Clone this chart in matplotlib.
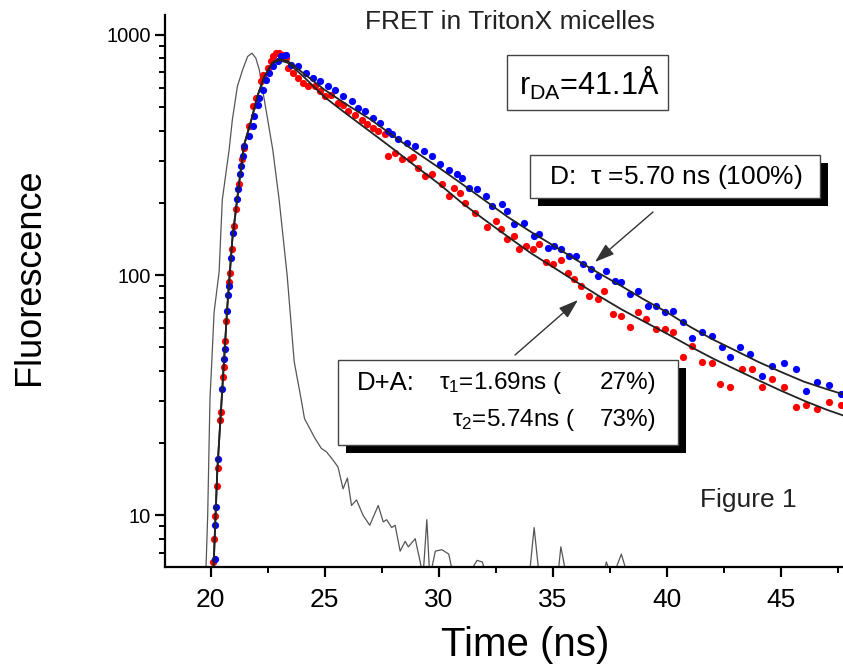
import matplotlib
matplotlib.use('Agg')
import matplotlib.pyplot as plt
from matplotlib.patches import Rectangle
from matplotlib.ticker import LogLocator, MultipleLocator, NullFormatter

plt.rcParams['font.family'] = ['Liberation Sans', 'DejaVu Sans']
plt.rcParams['mathtext.fontset'] = 'custom'
plt.rcParams['mathtext.rm'] = 'Liberation Sans'
plt.rcParams['mathtext.it'] = 'Liberation Sans'
plt.rcParams['mathtext.default'] = 'regular'

# ---- instrument response (grey trace) ----
irf_t = [19.70, 19.80, 19.87, 19.97, 20.05, 20.15, 20.37, 20.51, 20.81, 20.95, 21.17,
         21.40, 21.62, 21.81, 21.98, 22.13, 22.25, 22.50, 22.72, 23.00, 23.35, 23.66,
         23.96, 24.11, 24.55, 24.85, 25.07, 25.36, 25.58, 25.80, 25.99, 26.17, 26.39,
         26.68, 26.97, 27.34, 27.56, 27.71, 27.93, 28.08, 28.30, 28.52, 28.66, 28.96,
         29.18, 29.30, 29.47, 29.60, 29.84, 30.13, 30.43, 30.65, 31.40, 31.67, 31.90,
         32.10, 33.95, 34.17, 34.40, 35.20, 35.34, 35.60, 37.20, 37.33, 37.60, 37.99,
         38.30, 47.70]
irf_y = [4.5, 6.2, 10.0, 30.6, 43.6, 70.0, 103.0, 206.0, 333.0, 443.0, 610.0,
         716.0, 813.0, 839.0, 800.0, 716.0, 610.0, 443.0, 333.0, 206.0, 100.0, 43.6,
         30.6, 25.3, 21.1, 19.0, 18.4, 17.0, 15.9, 12.9, 14.3, 11.0, 11.6,
         10.0, 9.1, 11.0, 9.4, 9.6, 8.9, 9.1, 7.1, 7.8, 7.4, 8.0,
         6.4, 5.5, 9.6, 5.5, 7.1, 7.2, 6.9, 5.5, 5.9, 6.5, 6.4,
         5.5, 5.5, 8.9, 5.5, 5.5, 7.4, 5.5, 5.5, 6.4, 5.5, 6.9,
         5.5, 5.5]

# ---- donor only (blue) ----
d_t = [20.20, 20.21, 20.24, 20.32, 20.51, 20.59, 20.62, 20.72, 20.77, 20.80, 20.89,
       20.98, 21.16, 21.21, 21.30, 21.34, 21.40, 21.46, 21.69, 21.84, 21.91, 22.06,
       22.13, 22.28, 22.42, 22.57, 22.72, 22.94, 23.08, 23.30, 23.52, 23.82, 24.19,
       24.48, 24.77, 25.14, 25.43, 25.80, 26.17, 26.46, 26.75, 27.12, 27.41, 27.78,
       27.93, 28.22, 28.59, 28.96, 29.33, 29.69, 30.06, 30.43, 30.79, 31.01, 31.31,
       31.67, 32.04, 32.33, 32.78, 33.00, 33.29, 33.73, 34.17, 34.39, 34.76, 35.05,
       35.34, 35.71, 36.00, 36.30, 36.67, 36.96, 37.33, 37.70, 37.99, 38.36, 38.72,
       39.16, 39.53, 39.90, 40.26, 40.70, 41.07, 41.51, 41.95, 42.39, 42.76, 43.20,
       43.64, 44.15, 44.60, 45.10, 45.63, 46.07, 46.58, 47.09, 47.60]
d_y = [6.6, 9.1, 10.8, 17.2, 33.6, 44.8, 49.3, 71.0, 83.0, 90.0, 118.0,
       150.0, 207.0, 228.0, 263.0, 285.0, 313.0, 344.0, 378.0, 417.0, 458.0, 513.0,
       546.0, 592.0, 650.0, 694.0, 739.0, 775.0, 813.0, 826.0, 751.0, 739.0, 694.0,
       661.0, 640.0, 610.0, 592.0, 555.0, 529.0, 497.0, 481.0, 451.0, 430.0, 397.0,
       385.0, 367.0, 355.0, 344.0, 328.0, 313.0, 289.0, 275.0, 263.0, 254.0, 231.0,
       228.0, 213.0, 194.0, 197.0, 185.0, 163.0, 165.0, 145.6, 148.0, 130.0, 132.0,
       128.0, 120.0, 120.0, 111.0, 106.0, 99.4, 104.0, 94.7, 93.3, 83.4, 86.0,
       74.6, 74.6, 70.0, 71.0, 64.0, 54.6, 57.8, 56.0, 50.0, 45.5, 50.0,
       47.0, 38.2, 42.0, 43.2, 40.7, 33.1, 35.9, 34.8, 32.1]

# ---- donor + acceptor (red) ----
da_t = [20.10, 20.15, 20.18, 20.27, 20.30, 20.43, 20.45, 20.54, 20.57, 20.64, 20.69,
        20.81, 20.84, 20.92, 21.01, 21.11, 21.24, 21.37, 21.47, 21.69, 21.84, 21.98,
        22.20, 22.28, 22.50, 22.64, 22.72, 22.86, 23.00, 23.16, 23.30, 23.38, 23.60,
        23.82, 24.04, 24.26, 24.55, 24.77, 24.99, 25.29, 25.58, 25.80, 26.02, 26.31,
        26.61, 26.83, 27.12, 27.34, 27.63, 27.78, 28.08, 28.37, 28.74, 28.88, 29.10,
        29.40, 29.69, 30.13, 30.43, 30.65, 30.94, 31.16, 31.60, 32.11, 32.48, 32.70,
        33.00, 33.29, 33.51, 33.80, 34.10, 34.39, 34.68, 34.98, 35.34, 35.64, 35.93,
        36.22, 36.59, 36.96, 37.25, 37.62, 37.99, 38.36, 38.72, 39.09, 39.53, 39.90,
        40.26, 40.70, 41.07, 41.51, 41.95, 42.32, 42.76, 43.27, 43.71, 44.15, 44.60,
        45.10, 45.63, 46.07, 46.58, 47.09, 47.60]
da_y = [6.4, 8.0, 9.9, 13.2, 15.7, 25.0, 26.9, 37.6, 41.4, 53.3, 64.6,
        93.3, 102.5, 128.0, 160.0, 188.0, 239.0, 303.0, 339.0, 417.0, 505.0, 546.0,
        640.0, 682.0, 728.0, 775.0, 813.0, 839.0, 839.0, 826.0, 800.0, 728.0, 694.0,
        661.0, 631.0, 610.0, 610.0, 582.0, 555.0, 564.0, 521.0, 513.0, 481.0, 466.0,
        444.0, 424.0, 410.0, 397.0, 385.0, 313.0, 323.0, 303.0, 303.0, 311.0, 280.0,
        258.0, 263.0, 239.0, 213.0, 231.0, 220.0, 200.0, 182.0, 158.0, 168.0, 155.0,
        141.0, 145.6, 128.0, 132.0, 128.0, 134.6, 113.0, 111.0, 116.0, 102.5, 96.0,
        90.0, 82.0, 79.4, 86.0, 68.9, 67.8, 60.7, 70.0, 65.6, 59.7, 59.7,
        57.8, 45.5, 50.9, 43.6, 43.2, 35.3, 34.2, 40.7, 40.7, 34.2, 37.0,
        34.2, 28.3, 28.7, 27.8, 29.7, 28.7]

# ---- fitted curves (black) ----
fit_d_t = [20.13, 20.29, 20.51, 20.73, 20.95, 21.25, 21.47, 21.76, 22.06, 22.35, 22.72,
           23.00, 23.38, 24.00, 25.00, 26.00, 27.00, 28.00, 29.00, 30.00, 31.00, 32.00,
           33.00, 34.00, 35.00, 36.00, 37.00, 38.00, 39.00, 40.00, 41.00, 42.00, 43.00,
           44.00, 45.00, 46.00, 47.00, 48.00]
fit_d_y = [6.2, 15.3, 33.6, 74.0, 141.0, 243.0, 350.0, 435.0, 560.0, 670.0, 770.0,
           793.0, 778.0, 700.0, 590.0, 510.0, 445.0, 380.0, 325.0, 280.0, 240.0, 205.0,
           175.0, 152.0, 133.0, 116.0, 102.0, 90.0, 79.0, 70.0, 61.0, 54.0, 48.5,
           43.5, 39.5, 36.0, 33.5, 31.3]
fit_da_t = [20.13, 20.29, 20.51, 20.73, 20.95, 21.25, 21.47, 21.76, 22.06, 22.35, 22.72,
            23.00, 23.38, 24.00, 25.00, 26.00, 27.00, 28.00, 29.00, 30.00, 31.00, 32.00,
            33.00, 34.00, 35.00, 36.00, 37.00, 38.00, 39.00, 40.00, 41.00, 42.00, 43.00,
            44.00, 45.00, 46.00, 47.00, 48.00]
fit_da_y = [6.2, 15.3, 33.6, 74.0, 141.0, 243.0, 350.0, 435.0, 560.0, 670.0, 765.0,
            785.0, 765.0, 680.0, 550.0, 465.0, 395.0, 335.0, 283.0, 240.0, 200.0, 170.0,
            145.0, 124.0, 108.0, 94.0, 82.0, 72.0, 64.0, 57.0, 50.5, 45.0, 40.5,
            36.5, 33.0, 30.0, 27.5, 25.5]

W, H = 843, 664


def fx(px):
    return px / W


def fy(py):
    return 1 - py / H


fig = plt.figure(figsize=(8.43, 6.64), dpi=100)
ax = fig.add_axes([fx(165), fy(567), 1 - fx(165), fy(15) - fy(567)])

ax.plot(irf_t, irf_y, color='#555555', linewidth=0.9, zorder=2)
ax.plot(da_t, da_y, 'o', color='#ff0000', markersize=5.2, markeredgewidth=0, zorder=3)
ax.plot(d_t, d_y, 'o', color='#0000ff', markersize=5.2, markeredgewidth=0, zorder=3)
ax.plot(fit_da_t, fit_da_y, color='#222222', linewidth=1.3, zorder=4)
ax.plot(fit_d_t, fit_d_y, color='#222222', linewidth=1.3, zorder=4)

ax.set_yscale('log')
ax.set_xlim(18.0, 47.7)
ax.set_ylim(6.1, 1210)
ax.xaxis.set_major_locator(MultipleLocator(5))
ax.xaxis.set_minor_locator(MultipleLocator(2.5))
ax.yaxis.set_minor_locator(LogLocator(base=10, subs=range(2, 10), numticks=20))
ax.yaxis.set_minor_formatter(NullFormatter())
ax.set_yticks([10, 100, 1000])
ax.set_yticklabels(['10', '100', '1000'])
for s in ['top', 'right']:
    ax.spines[s].set_visible(False)
for s in ['left', 'bottom']:
    ax.spines[s].set_linewidth(1.6)
ax.tick_params(which='major', direction='out', length=7, width=1.6)
ax.tick_params(which='minor', direction='out', length=4, width=1.4)
ax.tick_params(axis='x', labelsize=19, pad=8)
ax.tick_params(axis='y', labelsize=14.5, pad=3)

fig.text(fx(30), fy(277), 'Fluorescence', rotation=90, fontsize=26,
         ha='center', va='center')
fig.text(fx(525), fy(645), 'Time (ns)', fontsize=29, ha='center', va='center')
fig.text(fx(510), fy(22), 'FRET in TritonX micelles', fontsize=19,
         ha='center', va='center', color='#222222')
fig.text(fx(748), fy(500), 'Figure 1', fontsize=19, ha='center', va='center',
         color='#222222')

# r_DA box
fig.patches.append(Rectangle((fx(507), fy(110)), fx(161), fy(55) - fy(110),
                             transform=fig.transFigure, facecolor='white',
                             edgecolor='#444444', linewidth=1.0, zorder=5))
fig.text(fx(589), fy(83), r'r$_{DA}$=41.1Å', fontsize=22, ha='center',
         va='center', zorder=6)


def shadow_box(x0, y0, x1, y1, off=8):
    fig.patches.append(Rectangle((fx(x0 + off), fy(y1 + off)), fx(x1 - x0),
                                 fy(y0) - fy(y1), transform=fig.transFigure,
                                 facecolor='black', edgecolor='none', zorder=5))
    fig.patches.append(Rectangle((fx(x0), fy(y1)), fx(x1 - x0), fy(y0) - fy(y1),
                                 transform=fig.transFigure, facecolor='white',
                                 edgecolor='#444444', linewidth=1.0, zorder=6))


shadow_box(530, 155, 820, 198)
fig.text(fx(676), fy(177), r'D:  $\tau$ =5.70 ns (100%)', fontsize=19,
         ha='center', va='center', zorder=7)

shadow_box(338, 360, 678, 445)
fs_box = 17.5
fig.text(fx(357), fy(383), 'D+A:', fontsize=18.5, ha='left', va='center', zorder=7)
fig.text(fx(563), fy(383), r'$\tau_1$=1.69ns (', fontsize=fs_box,
         ha='right', va='center', zorder=7)
fig.text(fx(656), fy(383), '27%)', fontsize=fs_box, ha='right', va='center', zorder=7)
fig.text(fx(576), fy(420), r'$\tau_2$=5.74ns (', fontsize=fs_box,
         ha='right', va='center', zorder=7)
fig.text(fx(656), fy(420), '73%)', fontsize=fs_box, ha='right', va='center', zorder=7)

arrow = dict(arrowstyle='-|>,head_length=0.6,head_width=0.2', color='#333333',
             linewidth=1.0, mutation_scale=20, shrinkA=0, shrinkB=0)
ax.annotate('', xy=(fx(595), fy(262)), xytext=(fx(653), fy(212)),
            xycoords='figure fraction', textcoords='figure fraction',
            arrowprops=arrow)
ax.annotate('', xy=(fx(578), fy(300)), xytext=(fx(515), fy(355)),
            xycoords='figure fraction', textcoords='figure fraction',
            arrowprops=arrow)

fig.savefig('out.png', dpi=100)
